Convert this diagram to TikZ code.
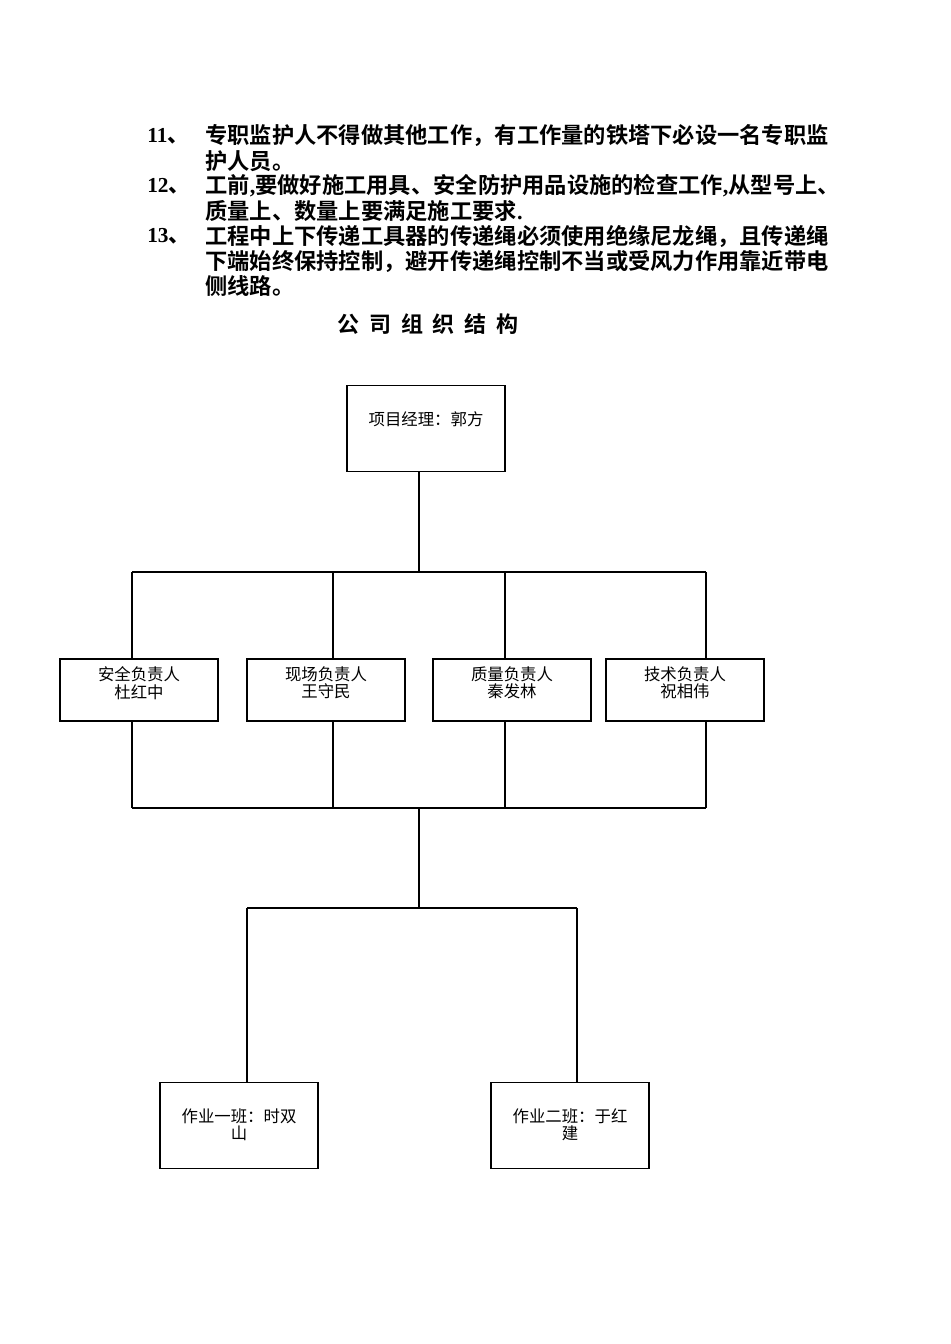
\documentclass[tikz,border=0pt]{standalone}
\usepackage{fontspec}
\setmainfont{Liberation Serif}
\newfontfamily\cjk{Noto Sans CJK SC}
\newfontfamily\cjkb{Noto Sans CJK SC Bold}
\begin{document}
\begin{tikzpicture}[x=0.75pt,y=-0.75pt,
  ln/.style={anchor=west,inner sep=0pt,font=\fontsize{16.7}{16.7}\selectfont\cjkb},
  num/.style={anchor=west,inner sep=0pt,font=\fontsize{16}{16}\selectfont\bfseries},
  box/.style={draw,line width=0.8pt,minimum width=118.5pt,inner sep=0pt},
  bt/.style={align=center,inner sep=0pt,font=\fontsize{12.3}{13}\selectfont\cjk},
  con/.style={line width=0.8pt}]
\useasboundingbox (0,0) rectangle (950,1344);
\node[num] (n11) at (147,136) {11\cjkb 、};
\node[ln] (l1) at (205,136) {专职监护人不得做其他工作，有工作量的铁塔下必设一名专职监};
\node[ln] (l2) at (205,161) {护人员。};
\node[num] (n12) at (147,186) {12\cjkb 、};
\node[ln] (l3) at (205,186) {工前{\bfseries\rmfamily ,}要做好施工用具、安全防护用品设施的检查工作{\bfseries\rmfamily ,}从型号上、};
\node[ln] (l4) at (205,211) {质量上、数量上要满足施工要求{\bfseries\rmfamily .}};
\node[num] (n13) at (147,236) {13\cjkb 、};
\node[ln] (l5) at (205,236) {工程中上下传递工具器的传递绳必须使用绝缘尼龙绳，且传递绳};
\node[ln] (l6) at (205,261) {下端始终保持控制，避开传递绳控制不当或受风力作用靠近带电};
\node[ln] (l7) at (205,286) {侧线路。};
\node[inner sep=0pt,font=\fontsize{16.5}{16.5}\selectfont\cjkb] (title) at (428,324) {公\hspace{0.45em}司\hspace{0.45em}组\hspace{0.45em}织\hspace{0.45em}结\hspace{0.45em}构};

\node[box,minimum height=65pt] (pm) at (426,428.5) {};
\node[bt] (pmt) at (426,419) {项目经理：郭方};

\node[box,minimum height=46.5pt] (b1) at (139,690) {};
\node[box,minimum height=46.5pt] (b2) at (326,690) {};
\node[box,minimum height=46.5pt] (b3) at (512,690) {};
\node[box,minimum height=46.5pt] (b4) at (685,690) {};
\node[bt] at (139,683) {安全负责人\\杜红中};
\node[bt] at (326,683) {现场负责人\\王守民};
\node[bt] at (512,683) {质量负责人\\秦发林};
\node[bt] at (685,683) {技术负责人\\祝相伟};

\node[box,minimum height=65pt] (w1) at (239,1125.5) {};
\node[box,minimum height=65pt] (w2) at (570,1125.5) {};
\node[bt] at (239,1125) {作业一班：时双\\山};
\node[bt] at (570,1125) {作业二班：于红\\建};

\coordinate (h1) at (419,572);
\coordinate (h2) at (419,808);
\coordinate (h3) at (419,908);
\draw[con] (pm.south -| h1) -- (h1);
\draw[con] (132,572) -- (706,572);
\foreach \x in {132,333,505,706} {
  \draw[con] (\x,572) -- (\x,659);
  \draw[con] (\x,721) -- (\x,808);
}
\draw[con] (132,808) -- (706,808);
\draw[con] (h2) -- (h3);
\draw[con] (247,908) -- (577,908);
\draw[con] (247,908) -- (247,1082);
\draw[con] (577,908) -- (577,1082);
\end{tikzpicture}
\end{document}
